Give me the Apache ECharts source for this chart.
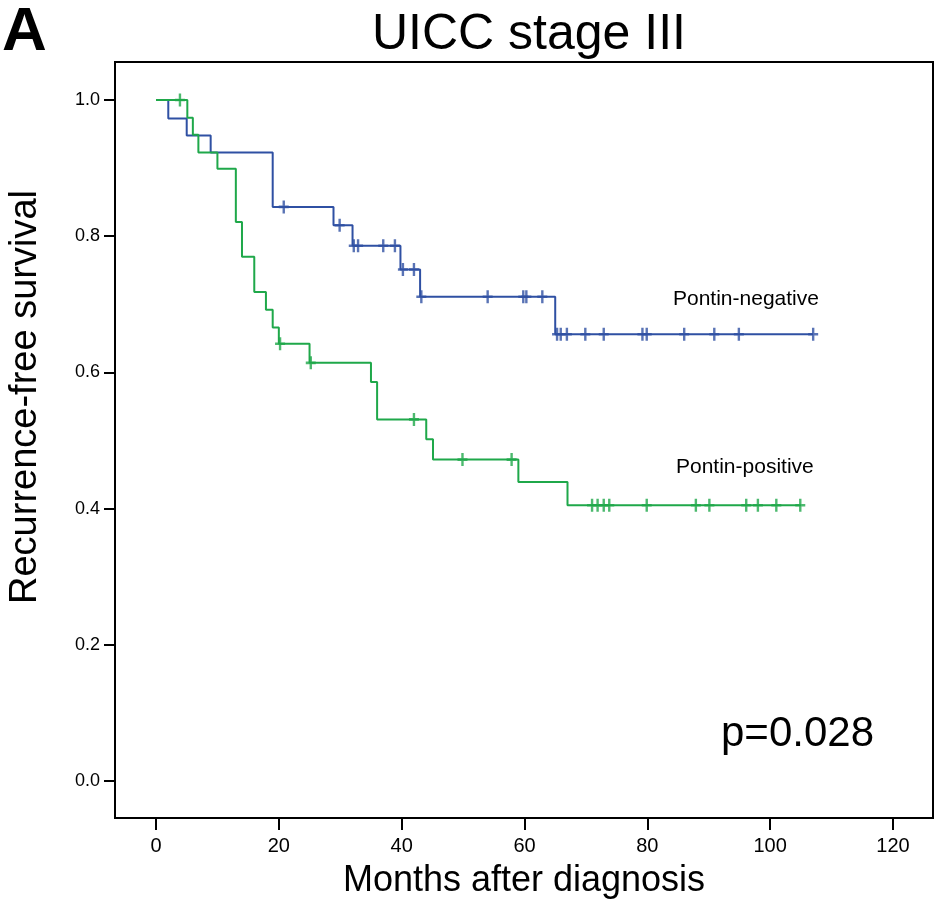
<!DOCTYPE html>
<html>
<head>
<meta charset="utf-8">
<script src="https://cdn.jsdelivr.net/npm/echarts@6.0.0/dist/echarts.min.js"></script>
<style>
html,body{margin:0;padding:0;background:#fff;}
#chart{width:945px;height:911px;}
</style>
</head>
<body>
<div id="chart"></div>
<script>
// Kaplan-Meier curves: event times (months) and survival after each step
const negTimes = [0, 2.0, 5.0, 8.9, 19.0, 28.9, 32.0, 39.8, 43.0, 65.0, 107.0];
const negSurv  = [1.0, 0.973, 0.948, 0.923, 0.843, 0.816, 0.786, 0.751, 0.711, 0.656, 0.656];
const negCensor = [20.8, 29.9, 32.2, 32.9, 37.0, 38.9, 40.2, 42.0, 43.2, 54.0, 59.8, 60.3, 62.9,
                   65.3, 65.9, 66.9, 69.9, 72.9, 79.2, 79.9, 86.0, 90.9, 94.9, 107.0];

const posTimes = [0, 5.1, 6.0, 6.9, 10.0, 13.0, 14.0, 16.0, 17.9, 19.0, 20.0, 25.0, 35.0, 36.0, 44.0, 45.1, 59.0, 67.0, 105.0];
const posSurv  = [1.0, 0.974, 0.949, 0.923, 0.899, 0.821, 0.770, 0.718, 0.692, 0.666, 0.642, 0.614, 0.586, 0.531, 0.502, 0.472, 0.439, 0.405, 0.405];
const posCensor = [3.9, 20.2, 25.2, 42.0, 49.9, 57.9, 71.0, 71.9, 72.9, 73.8, 79.9, 87.9, 90.1, 96.1, 98.0, 101.0, 104.9];

const xTicks = [0, 20, 40, 60, 80, 100, 120];
const yTicks = [0, 0.2, 0.4, 0.6, 0.8, 1.0];

const BLUE = '#2f50a3';
const GREEN = '#1fa84a';
const FONT = 'Liberation Sans, Arial, sans-serif';

function zip(t, s){ return t.map((v,i)=>[v, s[i]]); }
function survAt(times, surv, t){
  let s = surv[0];
  for (let i=0;i<times.length;i++){ if (times[i] <= t) s = surv[i]; }
  return s;
}
function censorPts(c, times, surv){ return c.map(t => [t, survAt(times, surv, t)]); }

const plus = 'path://M3.8,0 H6.2 V4.8 H10 V7.2 H6.2 V12 H3.8 V7.2 H0 V4.8 H3.8 Z';

const chart = echarts.init(document.getElementById('chart'), null, {renderer:'canvas'});
chart.setOption({
  backgroundColor:'#fff',
  animation:false,
  title:{
    text:'UICC stage III',
    left:524, top:5, textAlign:'center',
    textStyle:{fontFamily:FONT, fontSize:50, fontWeight:'normal', color:'#000'}
  },
  grid:{left:115, right:12, top:62, bottom:93, show:true, borderColor:'#000', borderWidth:2, backgroundColor:'#fff'},
  xAxis:{
    type:'value', min:-6.676, max:126.51,
    name:'Months after diagnosis', nameLocation:'middle', nameGap:45,
    nameTextStyle:{fontFamily:FONT, fontSize:36, color:'#000'},
    axisLine:{show:true, onZero:false, lineStyle:{color:'#000', width:2}},
    axisTick:{show:true, inside:false, length:12, customValues:xTicks, lineStyle:{color:'#000', width:2}},
    axisLabel:{customValues:xTicks, margin:18, fontFamily:FONT, fontSize:20, color:'#000'},
    splitLine:{show:false}
  },
  yAxis:{
    type:'value', min:-0.0543, max:1.0558,
    axisLine:{show:true, onZero:false, lineStyle:{color:'#000', width:2}},
    axisTick:{show:true, inside:false, length:11, customValues:yTicks, lineStyle:{color:'#000', width:2}},
    axisLabel:{customValues:yTicks, margin:15, fontFamily:FONT, fontSize:18, color:'#000',
      formatter:v=>v.toFixed(1)},
    splitLine:{show:false}
  },
  graphic:[
    {type:'text', left:2, top:2, style:{text:'A', font:'bold 62px '+FONT, fill:'#000'}},
    {type:'text', x:26, y:397, rotation:Math.PI/2,
      style:{text:'Recurrence-free survival', font:'38px '+FONT, fill:'#000', align:'center', verticalAlign:'middle'}},
    {type:'text', left:721, top:713, style:{text:'p=0.028', font:'42px '+FONT, fill:'#000'}},
    {type:'text', left:673, top:289, style:{text:'Pontin-negative', font:'21px '+FONT, fill:'#000'}},
    {type:'text', left:676, top:457, style:{text:'Pontin-positive', font:'21px '+FONT, fill:'#000'}}
  ],
  series:[
    {type:'line', name:'Pontin-negative', step:'end', data:zip(negTimes, negSurv), showSymbol:false,
      lineStyle:{color:BLUE, width:2}, z:2},
    {type:'scatter', data:censorPts(negCensor, negTimes, negSurv), symbol:plus, symbolSize:[10,13],
      itemStyle:{color:BLUE}, z:3},
    {type:'line', name:'Pontin-positive', step:'end', data:zip(posTimes, posSurv), showSymbol:false,
      lineStyle:{color:GREEN, width:2}, z:4},
    {type:'scatter', data:censorPts(posCensor, posTimes, posSurv), symbol:plus, symbolSize:[10,13],
      itemStyle:{color:GREEN}, z:5}
  ]
});
</script>
</body>
</html>
